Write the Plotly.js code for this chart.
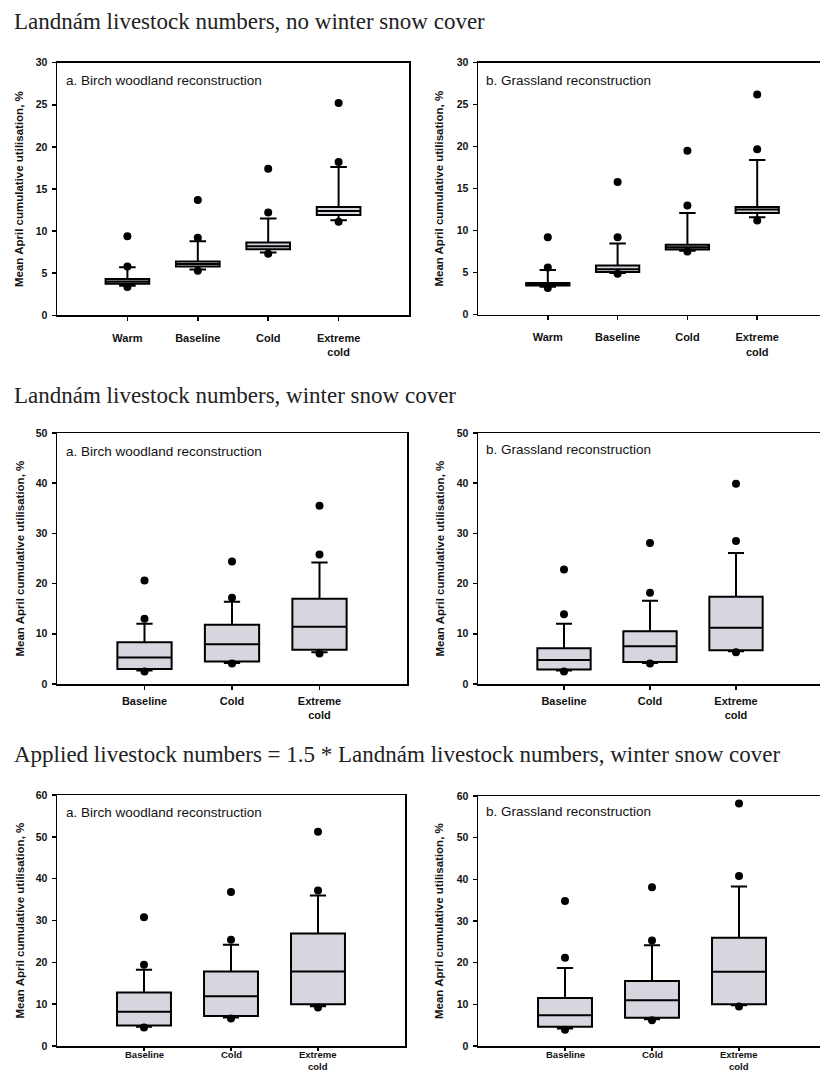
<!DOCTYPE html>
<html>
<head>
<meta charset="utf-8">
<script src="https://cdn.plot.ly/plotly-3.0.1.min.js"></script>
<style>
html,body{margin:0;padding:0;overflow:hidden;background:#fff;}
#chart{width:830px;height:1073px;}
</style>
</head>
<body>
<div id="chart"></div>
<script>
// ---------- DATA ----------
const sectionTitles = [
  "Landnám livestock numbers, no winter snow cover",
  "Landnám livestock numbers, winter snow cover",
  "Applied livestock numbers = 1.5 * Landnám livestock numbers, winter snow cover"
];
const panelLabels = ["a. Birch woodland reconstruction", "b. Grassland reconstruction"];
const yAxisTitle = "Mean April cumulative utilisation, %";

const catsTop = ["Warm", "Baseline", "Cold", "Extreme cold"];
const catsSnow = ["Baseline", "Cold", "Extreme cold"];
const tickTextTop = ["Warm", "Baseline", "Cold", "Extreme<br>cold"];
const tickTextSnow = ["Baseline", "Cold", "Extreme<br>cold"];
const tickTextBottom = ["Baseline", "Cold", "Extreme"];
const tickSecondLineBottom = "cold";

// Panel 1: no snow, birch woodland
const p1_q1  = [3.75, 5.8, 7.85, 11.9];
const p1_med = [4.0, 6.1, 8.2, 12.4];
const p1_q3  = [4.3, 6.4, 8.65, 12.85];
const p1_lo  = [3.5, 5.45, 7.45, 11.3];
const p1_hi  = [5.7, 8.8, 11.5, 17.6];
const p1_out_top = [9.4, 13.7, 17.4, 25.2];
const p1_out_mid = [5.8, 9.2, 12.2, 18.2];
const p1_out_low = [3.35, 5.3, 7.3, 11.1];

// Panel 2: no snow, grassland
const p2_q1  = [3.45, 5.05, 7.75, 12.1];
const p2_med = [3.6, 5.4, 8.0, 12.5];
const p2_q3  = [3.75, 5.85, 8.3, 12.8];
const p2_lo  = [3.3, 4.95, 7.6, 11.6];
const p2_hi  = [5.3, 8.45, 12.1, 18.4];
const p2_out_top = [9.2, 15.8, 19.5, 26.2];
const p2_out_mid = [5.6, 9.2, 13.0, 19.7];
const p2_out_low = [3.15, 4.85, 7.5, 11.2];

// Panel 3: snow, birch woodland
const p3_q1  = [3.0, 4.5, 6.8];
const p3_med = [5.3, 7.9, 11.4];
const p3_q3  = [8.3, 11.8, 17.0];
const p3_lo  = [2.7, 4.2, 6.3];
const p3_hi  = [12.0, 16.4, 24.2];
const p3_out_top = [20.6, 24.4, 35.5];
const p3_out_mid = [13.0, 17.2, 25.8];
const p3_out_low = [2.5, 4.1, 6.1];

// Panel 4: snow, grassland
const p4_q1  = [2.9, 4.4, 6.7];
const p4_med = [4.8, 7.5, 11.2];
const p4_q3  = [7.1, 10.5, 17.4];
const p4_lo  = [2.7, 4.2, 6.5];
const p4_hi  = [12.0, 16.6, 26.1];
const p4_out_top = [22.8, 28.1, 39.9];
const p4_out_mid = [13.9, 18.2, 28.5];
const p4_out_low = [2.5, 4.1, 6.3];

// Panel 5: 1.5x, birch woodland
const p5_q1  = [4.9, 7.2, 10.0];
const p5_med = [8.2, 11.9, 17.8];
const p5_q3  = [12.8, 17.8, 26.9];
const p5_lo  = [4.6, 6.8, 9.5];
const p5_hi  = [18.2, 24.2, 36.0];
const p5_out_top = [30.8, 36.8, 51.2];
const p5_out_mid = [19.4, 25.4, 37.2];
const p5_out_low = [4.4, 6.6, 9.2];

// Panel 6: 1.5x, grassland
const p6_q1  = [4.6, 6.8, 10.0];
const p6_med = [7.4, 11.0, 17.8];
const p6_q3  = [11.5, 15.6, 26.0];
const p6_lo  = [4.2, 6.4, 9.8];
const p6_hi  = [18.7, 24.2, 38.3];
const p6_out_top = [34.8, 38.1, 58.2];
const p6_out_mid = [21.2, 25.3, 40.8];
const p6_out_low = [3.9, 6.2, 9.5];

// ---------- LAYOUT HELPERS ----------
const W = 830, H = 1073;
const px = (a, b) => [a / W, b / W];
const py = (top, bottom) => [1 - bottom / H, 1 - top / H];

const panels = [
  {cats: catsTop,  tt: tickTextTop,  q1: p1_q1, med: p1_med, q3: p1_q3, lo: p1_lo, hi: p1_hi, ot: p1_out_top, om: p1_out_mid, ol: p1_out_low,
   xd: px(57, 409), yd: py(62.7, 315.3), yr: [0, 30], dt: 5, ww: 0.38, stand: 8, tl: 4, lab: 0},
  {cats: catsTop,  tt: tickTextTop,  q1: p2_q1, med: p2_med, q3: p2_q3, lo: p2_lo, hi: p2_hi, ot: p2_out_top, om: p2_out_mid, ol: p2_out_low,
   xd: px(478, 827), yd: py(62.7, 314.5), yr: [0, 30], dt: 5, ww: 0.38, stand: 8, tl: 4, lab: 1},
  {cats: catsSnow, tt: tickTextSnow, q1: p3_q1, med: p3_med, q3: p3_q3, lo: p3_lo, hi: p3_hi, ot: p3_out_top, om: p3_out_mid, ol: p3_out_low,
   xd: px(57, 407), yd: py(433, 684), yr: [0, 50], dt: 10, ww: 0.3, stand: 2, tl: 4, lab: 0},
  {cats: catsSnow, tt: tickTextSnow, q1: p4_q1, med: p4_med, q3: p4_q3, lo: p4_lo, hi: p4_hi, ot: p4_out_top, om: p4_out_mid, ol: p4_out_low,
   xd: px(478, 822), yd: py(433, 684), yr: [0, 50], dt: 10, ww: 0.3, stand: 2, tl: 4, lab: 1},
  {cats: catsSnow, tt: tickTextBottom, q1: p5_q1, med: p5_med, q3: p5_q3, lo: p5_lo, hi: p5_hi, ot: p5_out_top, om: p5_out_mid, ol: p5_out_low,
   xd: px(57, 405), yd: py(795, 1046), yr: [0, 60], dt: 10, ww: 0.3, stand: 0, tl: 3, lab: 0},
  {cats: catsSnow, tt: tickTextBottom, q1: p6_q1, med: p6_med, q3: p6_q3, lo: p6_lo, hi: p6_hi, ot: p6_out_top, om: p6_out_mid, ol: p6_out_low,
   xd: px(478, 826), yd: py(796, 1046), yr: [0, 60], dt: 10, ww: 0.3, stand: 0, tl: 3, lab: 1}
];

const sansFont = "Liberation Sans, Arial, sans-serif";
const data = [];
const layout = {
  width: W, height: H,
  margin: {l: 0, r: 0, t: 0, b: 0},
  paper_bgcolor: "#fff", plot_bgcolor: "#fff",
  showlegend: false,
  annotations: [],
  font: {family: sansFont, color: "#111"}
};

panels.forEach((p, i) => {
  const k = i === 0 ? "" : String(i + 1);
  const xa = "x" + k, ya = "y" + k;
  const bottomRow = i >= 4;
  data.push({
    type: "box", xaxis: xa, yaxis: ya,
    x: p.cats, q1: p.q1, median: p.med, q3: p.q3,
    lowerfence: p.lo, upperfence: p.hi,
    boxpoints: false, width: 0.62, whiskerwidth: p.ww,
    fillcolor: "#d6d6de", line: {color: "#000", width: 2},
    hoverinfo: "skip", showlegend: false
  });
  data.push({
    type: "scatter", mode: "markers", xaxis: xa, yaxis: ya,
    x: p.cats.concat(p.cats, p.cats),
    y: p.ot.concat(p.om, p.ol),
    marker: {color: "#000", size: 8, symbol: "circle"},
    hoverinfo: "skip", showlegend: false, cliponaxis: false
  });
  const tf = {family: sansFont, size: 11, color: "#111", weight: "bold"};
  layout["xaxis" + k] = {
    domain: p.xd, anchor: ya, type: "category",
    categoryorder: "array", categoryarray: p.cats,
    range: [-1, p.cats.length],
    tickmode: "array", tickvals: p.cats, ticktext: p.tt,
    showticklabels: !bottomRow,
    showline: true, linecolor: "#000", linewidth: 1.5, mirror: true,
    ticks: "outside", ticklen: p.tl, tickwidth: 1.5, tickcolor: "#000",
    ticklabelstandoff: p.stand,
    showgrid: false, zeroline: false, fixedrange: true,
    tickfont: tf
  };
  layout["yaxis" + k] = {
    domain: p.yd, anchor: xa, range: p.yr, dtick: p.dt, tick0: 0,
    showline: true, linecolor: "#000", linewidth: 1.5, mirror: true,
    ticks: "outside", ticklen: 4, tickwidth: 1.5, tickcolor: "#000",
    ticklabelstandoff: 2,
    showgrid: false, zeroline: false, fixedrange: true,
    tickfont: {family: sansFont, size: 10.5, color: "#111", weight: "bold"}
  };
  if (bottomRow) {
    // bottom-row category labels placed on the category axis, squeezed to fit the page
    const bf = {family: sansFont, size: 9.5, color: "#111", weight: "bold"};
    p.cats.forEach((c, j) => {
      layout.annotations.push({
        xref: xa, yref: "paper", x: c, y: 1 - 1048 / H,
        xanchor: "center", yanchor: "top", showarrow: false, borderpad: 0,
        text: p.tt[j], font: bf
      });
    });
    layout.annotations.push({
      xref: xa, yref: "paper", x: p.cats[p.cats.length - 1], y: 0,
      xanchor: "center", yanchor: "bottom", showarrow: false, borderpad: 0,
      text: tickSecondLineBottom, font: bf
    });
  }
  // panel label inside plot
  const labX = p.lab === 0 ? 64 : 484;
  const labY = [80, 80, 451, 450, 812, 811][i];
  layout.annotations.push({
    xref: "paper", yref: "paper", x: labX / W, y: 1 - labY / H,
    xanchor: "left", yanchor: "middle", showarrow: false,
    text: panelLabels[p.lab],
    font: {family: sansFont, size: 13.5, color: "#111"}
  });
  // y axis title
  const tX = p.lab === 0 ? 19 : 439;
  const cY = (H * (1 - p.yd[1]) + H * (1 - p.yd[0])) / 2;
  layout.annotations.push({
    xref: "paper", yref: "paper", x: tX / W, y: 1 - cY / H,
    xanchor: "center", yanchor: "middle", showarrow: false, textangle: -90,
    text: yAxisTitle,
    font: {family: sansFont, size: 11.5, color: "#111", weight: "bold"}
  });
});

// section titles
[21, 395, 754].forEach((yy, i) => {
  layout.annotations.push({
    xref: "paper", yref: "paper", x: 12 / W, y: 1 - yy / H,
    xanchor: "left", yanchor: "middle", showarrow: false,
    text: sectionTitles[i],
    font: {family: "Liberation Serif, Times New Roman, serif", size: 23, color: "#222"}
  });
});

Plotly.newPlot("chart", data, layout, {staticPlot: true, displayModeBar: false});
</script>
</body>
</html>
